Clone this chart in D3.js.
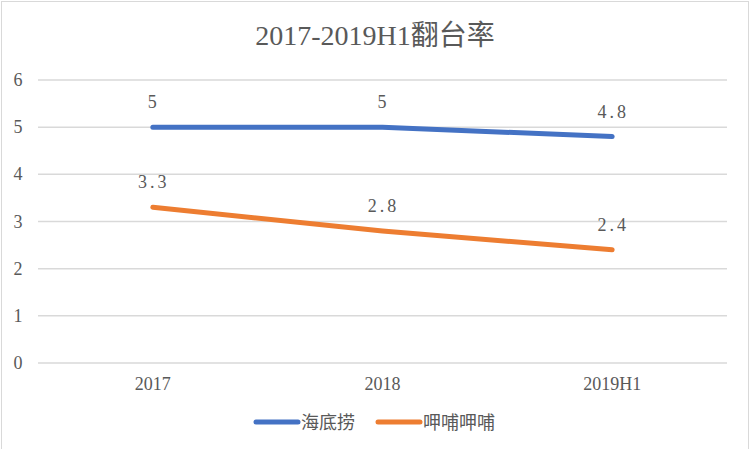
<!DOCTYPE html>
<html lang="zh">
<head>
<meta charset="UTF-8">
<title>2017-2019H1翻台率</title>
<script src="https://d3js.org/d3.v7.min.js"></script>
<style>
  body { margin: 0; background: #fff; }
  svg text { fill: #595959; font-family: "Liberation Serif", "Noto Sans CJK SC", serif; }
</style>
</head>
<body>
<svg id="chart" width="750" height="449"></svg>
<script>
const categories = ["2017", "2018", "2019H1"];
const seriesNames = ["海底捞", "呷哺呷哺"];
const haidilao = [5, 5, 4.8];
const xiabu = [3.3, 2.8, 2.4];
const yTicks = [0, 1, 2, 3, 4, 5, 6];
const colors = ["#4472C4", "#ED7D31"];

const svg = d3.select("#chart");
const plotLeft = 38, plotRight = 727, plotTop = 80, plotBottom = 363;

// outer frame
svg.append("rect")
  .attr("x", 1.5).attr("y", 1.5)
  .attr("width", 747).attr("height", 470)
  .attr("fill", "none").attr("stroke", "#d9d9d9");

svg.append("text")
  .attr("x", 375).attr("y", 45)
  .attr("text-anchor", "middle")
  .style("font-size", "28px")
  .text("2017-2019H1翻台率");

const x = d3.scaleBand().domain(categories).range([plotLeft, plotRight]);
const y = d3.scaleLinear().domain([0, 6]).range([plotBottom, plotTop]);

// gridlines
svg.append("g").selectAll("line")
  .data(yTicks)
  .join("line")
  .attr("x1", plotLeft).attr("x2", plotRight)
  .attr("y1", d => y(d)).attr("y2", d => y(d))
  .attr("stroke", "#d9d9d9").attr("stroke-width", 1.5);

// y labels
svg.append("g").selectAll("text")
  .data(yTicks)
  .join("text")
  .attr("x", 18).attr("y", d => y(d) + 6)
  .attr("text-anchor", "middle")
  .style("font-size", "18px")
  .text(d => d);

// x labels
svg.append("g").selectAll("text")
  .data(categories)
  .join("text")
  .attr("x", d => x(d) + x.bandwidth() / 2)
  .attr("y", 390)
  .attr("text-anchor", "middle")
  .style("font-size", "18px")
  .text(d => d);

const line = d3.line()
  .x((d, i) => x(categories[i]) + x.bandwidth() / 2)
  .y(d => y(d));

[haidilao, xiabu].forEach((vals, s) => {
  svg.append("path")
    .datum(vals)
    .attr("d", line)
    .attr("fill", "none")
    .attr("stroke", colors[s])
    .attr("stroke-width", 5)
    .attr("stroke-linecap", "round")
    .attr("stroke-linejoin", "round");

  svg.append("g").selectAll("text")
    .data(vals)
    .join("text")
    .attr("x", (d, i) => x(categories[i]) + x.bandwidth() / 2 + 1)
    .attr("y", d => y(d) - 19)
    .attr("text-anchor", "middle")
    .style("font-size", "18px")
    .style("letter-spacing", "3px")
    .text(d => d);
});

// legend
const legendX = [256, 378];
seriesNames.forEach((name, s) => {
  const g = svg.append("g").attr("transform", `translate(${legendX[s]},422)`);
  g.append("line")
    .attr("x1", 0).attr("x2", 42)
    .attr("stroke", colors[s]).attr("stroke-width", 5)
    .attr("stroke-linecap", "round");
  g.append("text")
    .attr("x", 45).attr("y", 7)
    .style("font-size", "18px")
    .text(name);
});
</script>
</body>
</html>
